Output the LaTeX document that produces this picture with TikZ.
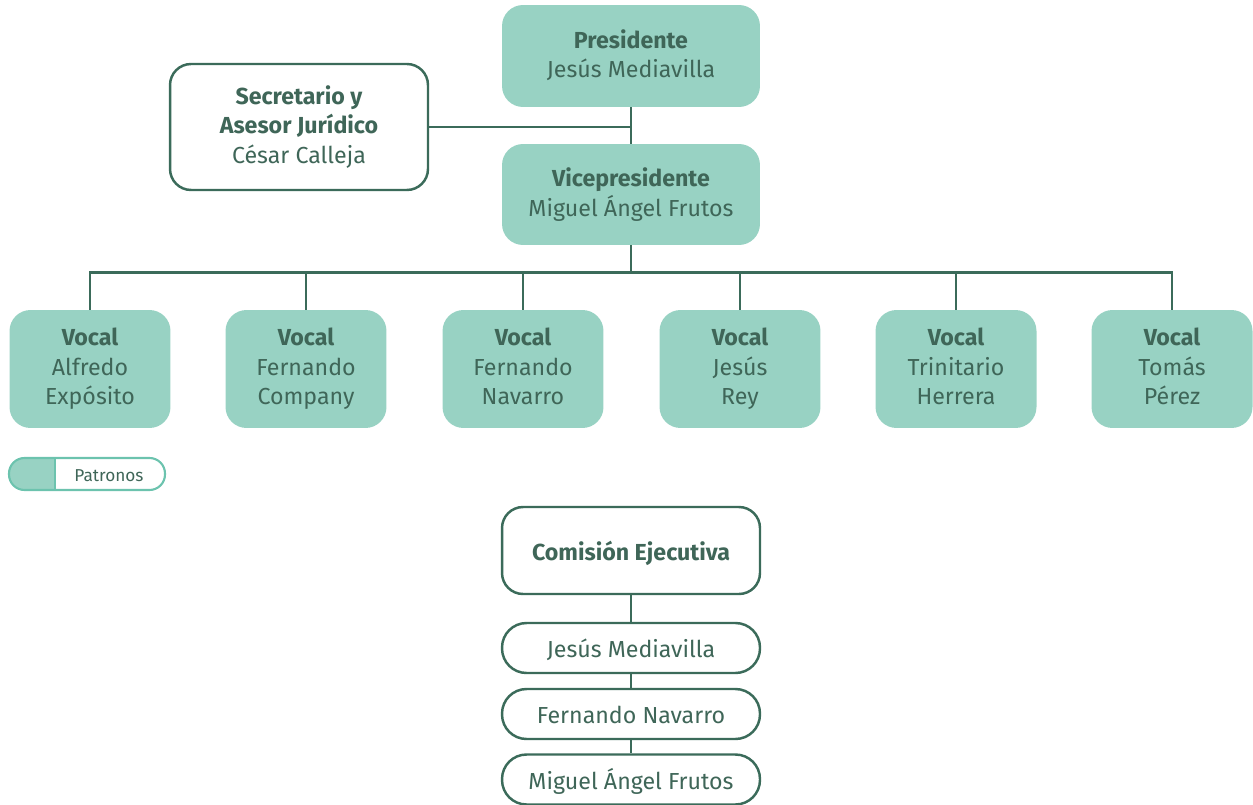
\documentclass[tikz,border=0pt]{standalone}
\usepackage{fontspec}
\setmainfont{Fira Sans}
\definecolor{patron}{HTML}{98D2C3}
\definecolor{verde}{HTML}{3B6B5A}
\definecolor{textoverde}{HTML}{3F6658}
\definecolor{leyenda}{HTML}{6CC3AE}
\newcommand\puntal{\rule[-0.22em]{0pt}{1.3em}}
\begin{document}
\begin{tikzpicture}[x=0.02cm,y=-0.02cm,
  every node/.style={text=textoverde,font=\fontsize{13.2}{16.8}\selectfont,align=center,inner sep=0pt,
    execute at begin node=\puntal,execute at end node=\puntal},
  patrono/.style={fill=patron,rounded corners=0.42cm,minimum width=5.16cm},
  cargo/.style={draw=verde,fill=white,line width=1.4pt,rounded corners=0.42cm,minimum width=5.16cm},
  miembro/.style={draw=verde,fill=white,line width=1.4pt,rounded corners=0.49cm,minimum width=5.16cm,minimum height=1cm},
  vocal/.style={fill=patron,rounded corners=0.42cm,minimum width=3.22cm,minimum height=2.36cm},
  linea/.style={verde,line width=1.4pt}]
\useasboundingbox (0,0) rectangle (1253,804);

% patronato
\node[patrono,minimum height=2.04cm] (pres) at (631,56) {\textbf{Presidente}\\Jesús Mediavilla};
\node[cargo,minimum height=2.52cm] (secr) at (299,127) {\textbf{Secretario y}\\\textbf{Asesor Jurídico}\\César Calleja};
\node[patrono,minimum height=2.02cm] (vice) at (631,194.5) {\textbf{Vicepresidente}\\Miguel Ángel Frutos};

\node[vocal] (voc1) at (90,369) {\textbf{Vocal}\\Alfredo\\Expósito};
\node[vocal] (voc2) at (306,369) {\textbf{Vocal}\\Fernando\\Company};
\node[vocal] (voc3) at (523,369) {\textbf{Vocal}\\Fernando\\Navarro};
\node[vocal] (voc4) at (740,369) {\textbf{Vocal}\\Jesús\\Rey};
\node[vocal] (voc5) at (956,369) {\textbf{Vocal}\\Trinitario\\Herrera};
\node[vocal] (voc6) at (1172,369) {\textbf{Vocal}\\Tomás\\Pérez};

\draw[linea] (pres.south) -- (vice.north);
\draw[linea] (secr.east) -- (secr.east -| pres.south);
\draw[linea] (vice.south) -- ++(0,27) coordinate (bus);
\draw[linea] (voc1.north) |- (bus) -| (voc6.north);
\foreach \v in {voc2,voc3,voc4,voc5}
  \draw[linea] (\v.north) -- (\v.north |- bus);

% leyenda
\begin{scope}
\clip (9,458) rectangle (55,490);
\fill[patron,rounded corners=0.31cm] (9,458) rectangle (165,490);
\end{scope}
\draw[leyenda,line width=1.2pt,rounded corners=0.31cm] (9,458) rectangle (165,490);
\draw[leyenda,line width=1.2pt] (55,458) -- (55,490);
\node[font=\fontsize{9.8}{11}\selectfont] (patronos) at (109,474) {Patronos};

% comision ejecutiva
\node[cargo,minimum height=1.74cm] (comi) at (631,550.5) {\textbf{Comisión Ejecutiva}};
\node[miembro] (mie1) at (631,648) {Jesús Mediavilla};
\node[miembro] (mie2) at (631,714) {Fernando Navarro};
\node[miembro] (mie3) at (631,779.5) {Miguel Ángel Frutos};
\draw[linea] (comi.south) -- (mie1.north);
\draw[linea] (mie1.south) -- (mie2.north);
\draw[linea] (mie2.south) -- (mie3.north);
\end{tikzpicture}
\end{document}
